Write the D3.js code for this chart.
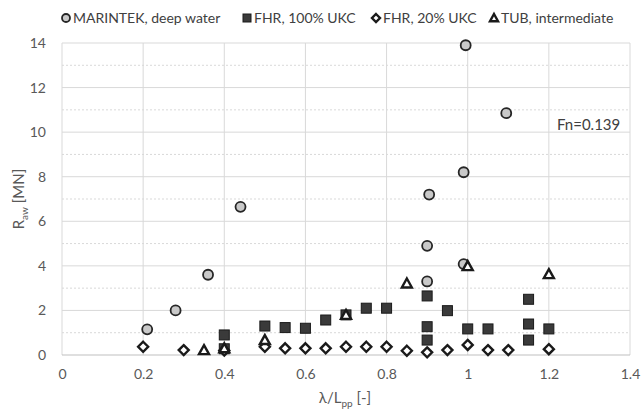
<!DOCTYPE html>
<html>
<head>
<meta charset="utf-8">
<script src="https://cdn.jsdelivr.net/npm/d3@7"></script>
<style>
  body { margin: 0; background: #fff; }
  text { font-family: Lato, "Open Sans", sans-serif; }
</style>
</head>
<body>
<div id="chart"></div>
<script>
// Series values: [lambda/Lpp, Raw]
const marintek = [[0.21, 1.15], [0.28, 2.0], [0.36, 3.6], [0.44, 6.65], [0.90, 3.3], [0.90, 4.9],
                  [0.905, 7.2], [0.99, 4.08], [0.99, 8.2], [0.995, 13.9], [1.095, 10.85]];
const fhr100 = [[0.40, 0.9], [0.40, 0.28], [0.50, 1.3], [0.55, 1.23], [0.60, 1.2], [0.65, 1.57],
                [0.70, 1.8], [0.75, 2.1], [0.80, 2.1], [0.90, 2.65], [0.90, 1.27], [0.90, 0.67],
                [0.95, 1.99], [1.00, 1.17], [1.05, 1.17], [1.15, 2.5], [1.15, 1.39], [1.15, 0.67], [1.20, 1.17]];
const fhr20 = [[0.20, 0.37], [0.30, 0.22], [0.40, 0.2], [0.50, 0.37], [0.55, 0.3], [0.60, 0.3],
               [0.65, 0.3], [0.70, 0.37], [0.75, 0.37], [0.80, 0.37], [0.85, 0.19], [0.90, 0.12],
               [0.95, 0.22], [1.00, 0.45], [1.05, 0.22], [1.10, 0.22], [1.20, 0.26]];
const tub = [[0.35, 0.22], [0.40, 0.3], [0.50, 0.67], [0.70, 1.8], [0.85, 3.21], [1.00, 3.99], [1.20, 3.63]];

const xTicks = [0, 0.2, 0.4, 0.6, 0.8, 1, 1.2, 1.4];
const yTicks = [0, 2, 4, 6, 8, 10, 12, 14];
const yMinor = [1, 3, 5, 7, 9, 11, 13];

const series = [
  { name: "MARINTEK, deep water", data: marintek, shape: "circle" },
  { name: "FHR, 100% UKC", data: fhr100, shape: "square" },
  { name: "FHR, 20% UKC", data: fhr20, shape: "diamond" },
  { name: "TUB, intermediate", data: tub, shape: "triangle" }
];

const W = 641, H = 412;
const margin = { left: 62, right: 11, top: 43, bottom: 57 };

const svg = d3.select("#chart").append("svg")
  .attr("width", W).attr("height", H);

const x = d3.scaleLinear().domain([0, 1.4]).range([margin.left, W - margin.right]);
const y = d3.scaleLinear().domain([0, 14]).range([H - margin.bottom, margin.top]);

// Gridlines
const grid = svg.append("g");
grid.selectAll(".ymin").data(yMinor).enter().append("line")
  .attr("x1", x(0)).attr("x2", x(1.4))
  .attr("y1", d => y(d)).attr("y2", d => y(d))
  .style("stroke", "#d9d9d9").style("stroke-dasharray", "2,2");
grid.selectAll(".ymaj").data(yTicks.slice(1)).enter().append("line")
  .attr("x1", x(0)).attr("x2", x(1.4))
  .attr("y1", d => y(d)).attr("y2", d => y(d))
  .style("stroke", "#d9d9d9");
grid.selectAll(".xmaj").data(xTicks.slice(1)).enter().append("line")
  .attr("x1", d => x(d)).attr("x2", d => x(d))
  .attr("y1", y(0)).attr("y2", y(14))
  .style("stroke", "#d9d9d9");

// Axis lines
svg.append("line").attr("x1", x(0)).attr("x2", x(0)).attr("y1", y(0)).attr("y2", y(14))
  .style("stroke", "#d9d9d9");
svg.append("line").attr("x1", x(0)).attr("x2", x(1.4)).attr("y1", y(0)).attr("y2", y(0))
  .style("stroke", "#bfbfbf");

// Tick labels via axes
const xAxis = svg.append("g").attr("transform", `translate(0,${y(0)})`)
  .call(d3.axisBottom(x).tickValues(xTicks).tickSize(0).tickPadding(14).tickFormat(d3.format("~g")));
const yAxis = svg.append("g").attr("transform", `translate(${x(0)},0)`)
  .call(d3.axisLeft(y).tickValues(yTicks).tickSize(0).tickPadding(16));
[xAxis, yAxis].forEach(a => {
  a.select(".domain").remove();
  a.selectAll("text").style("font-size", "14px").style("fill", "#595959")
    .style("font-family", "Lato, sans-serif");
});

// Axis titles
const yTitle = svg.append("text")
  .attr("transform", `translate(24,${(y(0) + y(14)) / 2}) rotate(-90)`)
  .attr("text-anchor", "middle").style("font-size", "15px").style("fill", "#595959");
yTitle.append("tspan").text("R");
yTitle.append("tspan").attr("dy", 4).style("font-size", "10px").text("aw");
yTitle.append("tspan").attr("dy", -4).text(" [MN]");

const xTitle = svg.append("text")
  .attr("x", 345).attr("y", 403)
  .attr("text-anchor", "middle").style("font-size", "15px").style("fill", "#595959");
xTitle.append("tspan").text("λ/L");
xTitle.append("tspan").attr("dy", 4).style("font-size", "10px").text("pp");
xTitle.append("tspan").attr("dy", -4).text(" [-]");

// Annotation
svg.append("text").attr("x", 557).attr("y", 130)
  .style("font-size", "15px").style("fill", "#404040").text("Fn=0.139");

// Marker drawing
function drawMarker(sel, shape, s) {
  const h = s / 2;
  if (shape === "circle") {
    sel.append("circle").attr("r", h)
      .style("fill", "#c9c9c9").style("stroke", "#262626").style("stroke-width", 1.8);
  } else if (shape === "square") {
    sel.append("rect").attr("x", -h).attr("y", -h).attr("width", s).attr("height", s)
      .style("fill", "#3a3a3a").style("stroke", "#1a1a1a").style("stroke-width", 1);
  } else if (shape === "diamond") {
    sel.append("path").attr("d", `M0,${-h}L${h},0L0,${h}L${-h},0Z`)
      .style("fill", "#fff").style("stroke", "#1a1a1a").style("stroke-width", 2.4);
  } else {
    sel.append("path").attr("d", `M0,${-h}L${h},${h * 0.8}L${-h},${h * 0.8}Z`)
      .style("fill", "#fff").style("stroke", "#1a1a1a").style("stroke-width", 2.4);
  }
}

series.forEach(sr => {
  const g = svg.append("g");
  sr.data.forEach(d => {
    const m = g.append("g").attr("transform", `translate(${x(d[0])},${y(d[1])})`);
    drawMarker(m, sr.shape, 10);
  });
});

// Legend
const legend = svg.append("g").attr("transform", "translate(0,18)");
const legendX = [66, 247, 376, 494];
series.forEach((sr, i) => {
  const item = legend.append("g").attr("transform", `translate(${legendX[i]},0)`);
  drawMarker(item, sr.shape, 8);
  item.append("text").attr("x", 7).attr("y", 5)
    .style("font-size", "14px").style("fill", "#404040").text(sr.name);
});
</script>
</body>
</html>
